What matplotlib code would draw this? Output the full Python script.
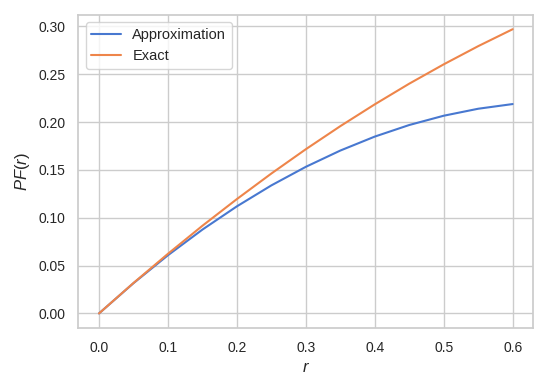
import matplotlib
matplotlib.use("Agg")
import matplotlib.pyplot as plt
import seaborn as sns

r = [0.0, 0.05, 0.10, 0.15, 0.20, 0.25, 0.30, 0.35, 0.40, 0.45, 0.50, 0.55, 0.60]
approximation = [0.0, 0.0316, 0.0608, 0.0876, 0.1119, 0.1338, 0.1532, 0.1702, 0.1848, 0.1969, 0.2066, 0.2139, 0.2188]
exact = [0.0, 0.0318, 0.0623, 0.0916, 0.1195, 0.1462, 0.1716, 0.1957, 0.2185, 0.2401, 0.2603, 0.2793, 0.2970]
labels = ["Approximation", "Exact"]

sns.set_theme(style="whitegrid", palette="muted")
plt.rcParams['font.family'] = ['Liberation Sans', 'DejaVu Sans']
plt.rcParams['mathtext.fontset'] = 'custom'
plt.rcParams['mathtext.it'] = 'Liberation Sans:italic'
plt.rcParams['mathtext.rm'] = 'Liberation Sans'

fig = plt.figure(figsize=(5.5, 3.85), dpi=100)
ax = fig.add_axes([0.1424, 0.149, 0.8273, 0.812])
pal = sns.color_palette("muted")
ax.plot(r, approximation, color=pal[0], lw=1.5, label=labels[0])
ax.plot(r, exact, color=pal[1], lw=1.5, label=labels[1])
ax.set_xlabel("$r$", fontsize=12)
ax.set_ylabel("$PF(r)$", fontsize=12)
ax.tick_params(labelsize=10)
ax.set_xticks([0.0, 0.1, 0.2, 0.3, 0.4, 0.5, 0.6])
ax.set_yticks([0.0, 0.05, 0.10, 0.15, 0.20, 0.25, 0.30])
ax.set_yticklabels(["0.00", "0.05", "0.10", "0.15", "0.20", "0.25", "0.30"])
ax.set_xticklabels(["0.0", "0.1", "0.2", "0.3", "0.4", "0.5", "0.6"])
ax.legend(loc="upper left", fontsize=10.5)
fig.savefig("out.png", dpi=100)
